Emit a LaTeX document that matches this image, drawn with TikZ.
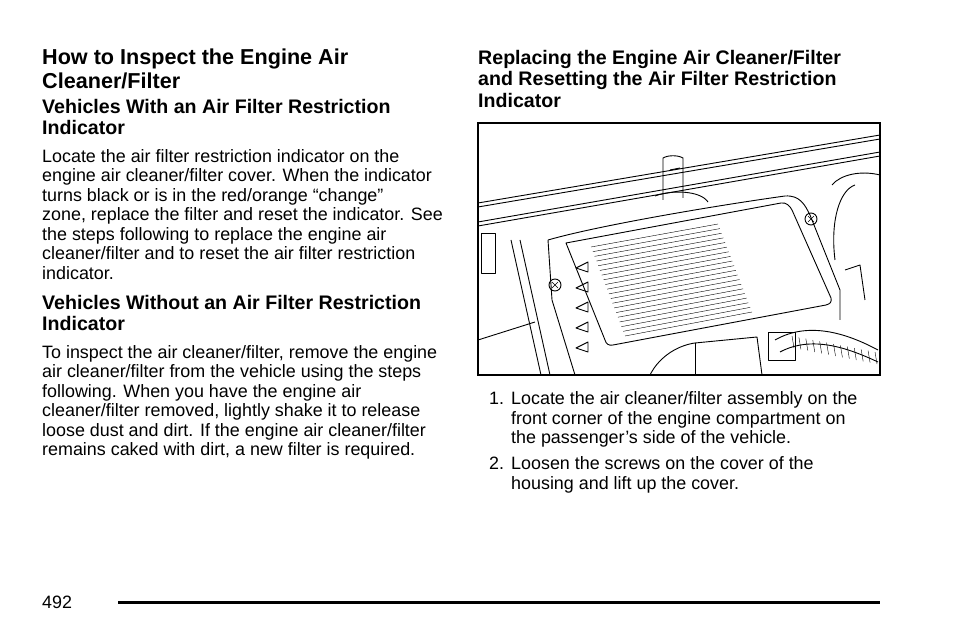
\documentclass[tikz,border=0pt]{standalone}
\usepackage{fontspec}
\setmainfont{Liberation Sans}
\usetikzlibrary{positioning, calc}

\tikzset{
  body/.style = {anchor=north west, inner sep=0pt, align=left, font=\fontsize{17.9}{19.5}\selectfont},
  head/.style = {anchor=north west, inner sep=0pt, align=left, font=\fontsize{21.6}{24}\selectfont\bfseries},
  subhead/.style = {anchor=north west, inner sep=0pt, align=left, font=\fontsize{19.6}{21.5}\selectfont\bfseries},
  part/.style = {line width=0.9pt, line join=round},
}

\begin{document}
\begin{tikzpicture}[x=1pt, y=-1pt]
  \useasboundingbox (0,0) rectangle (954,636);

  % left column
  \node[head] (title) at (42,49) {How to Inspect the Engine Air\\Cleaner/Filter};
  \node[subhead] (with) at (42,99) {Vehicles With an Air Filter Restriction\\Indicator};
  \node[body] (withtext) at (42,149) {Locate the air filter restriction indicator on the\\
    engine air cleaner/filter cover. When the indicator\\
    turns black or is in the red/orange “change”\\
    zone, replace the filter and reset the indicator. See\\
    the steps following to replace the engine air\\
    cleaner/filter and to reset the air filter restriction\\
    indicator.};
  \node[subhead] (without) at (42,295) {Vehicles Without an Air Filter Restriction\\Indicator};
  \node[body] (withouttext) at (42,345) {To inspect the air cleaner/filter, remove the engine\\
    air cleaner/filter from the vehicle using the steps\\
    following. When you have the engine air\\
    cleaner/filter removed, lightly shake it to release\\
    loose dust and dirt. If the engine air cleaner/filter\\
    remains caked with dirt, a new filter is required.};

  % right column
  \node[subhead] (replace) at (478,50) {Replacing the Engine Air Cleaner/Filter\\
    and Resetting the Air Filter Restriction\\Indicator};

  % illustration
  \begin{scope}
    \clip (478,123) rectangle (880,375);
    % rails
    \draw[part] (478,203) -- (880,135);
    \draw[part] (478,207) -- (880,139);
    \draw[part] (478,222) -- (880,152);
    \draw[part] (478,226) -- (880,156);
    % tab
    \draw[part] (663,200) -- (663,158) .. controls (668,155) and (678,155) .. (683,158) -- (683,198);
    \draw[part] (670,170) -- (680,168);
    \draw[part] (655,196) .. controls (670,190) and (700,190) .. (708,202);
    % housing
    \draw[part] (548,240) .. controls (600,225) and (720,205) .. (785,196)
      .. controls (800,195) and (805,205) .. (810,215) -- (840,290) -- (840,320);
    \draw[part] (548,240) -- (552,300) -- (575,375);
    % lid
    \draw[part] (566,243) -- (781,203) .. controls (786,202) and (790,206) .. (792,210)
      -- (831,298) .. controls (832,302) and (830,304) .. (826,305)
      -- (613,345) .. controls (609,346) and (606,344) .. (605,340) -- cycle;
    \foreach \i in {0,...,19} {
      \draw ($(591,247)!\i/19!(625,336)$) -- ($(718,224)!\i/19!(752,312)$);
    }
    \draw[part] (555,285) circle (6pt);
    \draw (552,282) -- (558,288) (558,282) -- (552,288);
    \draw[part] (811,219) circle (6pt);
    \draw (808,216) -- (814,222) (814,216) -- (808,222);
    \foreach \i in {0,...,4} {
      \draw[part] (588,{262+\i*20}) -- ++(-12,6) -- ++(12,4) -- cycle;
    }
    % left bracket
    \draw[part] (481,233) rectangle (495,273);
    \draw[part] (511,240) -- (541,375);
    \draw[part] (520,240) -- (550,375);
    \draw[part] (478,340) -- (535,322);
    % right side
    \draw[part] (832,185) .. controls (840,175) and (860,170) .. (880,175);
    \draw[part] (835,260) .. controls (830,220) and (840,190) .. (855,185);
    \draw[part] (845,270) -- (860,265) -- (865,300);
    % hose
    \draw[part] (775,340) .. controls (810,320) and (850,335) .. (878,350);
    \draw[part] (780,352) .. controls (812,335) and (848,348) .. (878,362);
    \foreach \i in {0,...,12} {
      \draw ($(792,336)!\i/12!(875,352)$) -- ++(2,12);
    }
    \draw[part] (768,332) rectangle (795,360);
    \draw[part] (695,343) -- (757,337) -- (762,375);
    \draw[part] (695,343) -- (695,375);
    \draw[part] (650,375) .. controls (660,355) and (680,345) .. (695,343);
  \end{scope}
  \draw[line width=1.2pt] (478,123) rectangle (880,375);

  % steps
  \node[body] (n1) at (489,391) {\strut 1.};
  \node[body] (s1) at (511,391) {\strut Locate the air cleaner/filter assembly on the\\
    front corner of the engine compartment on\\
    the passenger’s side of the vehicle.};
  \node[body] (n2) at (489,456) {\strut 2.};
  \node[body] (s2) at (511,456) {\strut Loosen the screws on the cover of the\\
    housing and lift up the cover.};

  % footer
  \node[body] (page) at (42,596) {492};
  \draw[line width=3pt] (118,602) -- (880,602);
\end{tikzpicture}
\end{document}
